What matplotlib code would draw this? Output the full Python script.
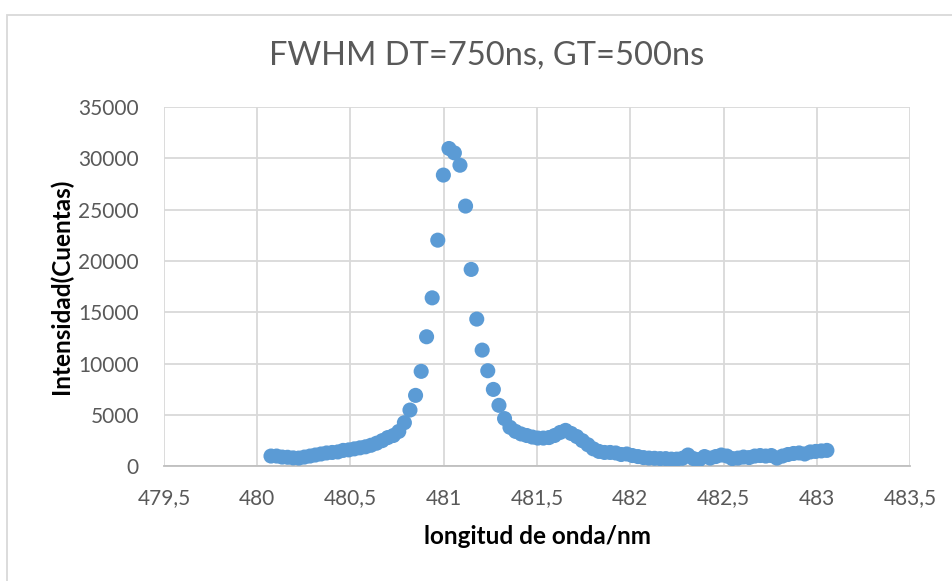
"""
Scatter of FWHM spectrum, DT=750ns, GT=500ns
"""

#######################################################################################
# Library
import matplotlib
matplotlib.use('Agg')
import matplotlib.pyplot as plt
from matplotlib.patches import Rectangle
from matplotlib.ticker import FuncFormatter
#######################################################################################

# -------------------------------------------------------------------------------------
# Data
a1dWave = [480.074, 480.104, 480.134, 480.163, 480.193, 480.223, 480.253, 480.283,
           480.312, 480.342, 480.372, 480.402, 480.432, 480.461, 480.491, 480.521,
           480.551, 480.581, 480.610, 480.640, 480.670, 480.700, 480.730, 480.759,
           480.789, 480.819, 480.849, 480.879, 480.908, 480.938, 480.968, 480.998,
           481.028, 481.057, 481.087, 481.117, 481.147, 481.177, 481.206, 481.236,
           481.266, 481.296, 481.326, 481.355, 481.385, 481.415, 481.445, 481.475,
           481.504, 481.534, 481.564, 481.594, 481.624, 481.653, 481.683, 481.713,
           481.743, 481.773, 481.802, 481.832, 481.862, 481.892, 481.922, 481.951,
           481.981, 482.011, 482.041, 482.071, 482.100, 482.130, 482.160, 482.190,
           482.220, 482.249, 482.279, 482.309, 482.339, 482.369, 482.398, 482.428,
           482.458, 482.488, 482.518, 482.547, 482.577, 482.607, 482.637, 482.667,
           482.696, 482.726, 482.756, 482.786, 482.816, 482.845, 482.875, 482.905,
           482.935, 482.965, 482.994, 483.024, 483.054]
a1dCounts = [1000, 1000, 900, 880, 820, 800, 900, 1000,
             1100, 1200, 1300, 1350, 1400, 1550, 1600, 1700,
             1800, 1900, 2050, 2250, 2500, 2800, 3000, 3400,
             4250, 5480, 6910, 9250, 12620, 16410, 22030, 28370,
             30960, 30530, 29330, 25350, 19180, 14340, 11320, 9310,
             7490, 5940, 4650, 3800, 3400, 3150, 3000, 2850,
             2750, 2750, 2800, 3000, 3300, 3500, 3200, 2900,
             2500, 2100, 1700, 1450, 1350, 1350, 1300, 1150,
             1200, 1050, 950, 850, 800, 780, 750, 750,
             700, 700, 780, 1100, 750, 650, 950, 800,
             950, 1100, 1000, 750, 800, 900, 850, 1000,
             1050, 1000, 1050, 800, 1000, 1150, 1250, 1300,
             1200, 1400, 1450, 1500, 1550]

a1dXTicks = [479.5, 480, 480.5, 481, 481.5, 482, 482.5, 483, 483.5]
a1dYTicks = [0, 5000, 10000, 15000, 20000, 25000, 30000, 35000]

sTitle = 'FWHM DT=750ns, GT=500ns'
sXLabel = 'longitud de onda/nm'
sYLabel = 'Intensidad(Cuentas)'
# -------------------------------------------------------------------------------------

# -------------------------------------------------------------------------------------
# Style
plt.rcParams['font.family'] = ['Lato', 'DejaVu Sans']
sColorMark = '#5B9BD5'
sColorGrid = '#D9D9D9'
sColorTick = '#595959'
# -------------------------------------------------------------------------------------

# -------------------------------------------------------------------------------------
# Figure and axes
oFig = plt.figure(figsize=(9.53, 5.81), dpi=100)
oAx = oFig.add_axes([0.172, 0.1974, 0.783, 0.6184])

# Chart frame (only top and left edges visible in the crop)
oFig.patches.append(Rectangle((7 / 953, -0.5), 2.0, 1.5 - 15 / 581,
                              transform=oFig.transFigure, fill=False,
                              edgecolor=sColorGrid, linewidth=1.3))

oAx.scatter(a1dWave, a1dCounts, s=118, color=sColorMark, edgecolors='none', zorder=3)

oAx.set_xlim(479.5, 483.5)
oAx.set_ylim(0, 35000)
oAx.set_xticks(a1dXTicks)
oAx.set_yticks(a1dYTicks)
oAx.xaxis.set_major_formatter(FuncFormatter(lambda dV, iP: ('%g' % dV).replace('.', ',')))
oAx.yaxis.set_major_formatter(FuncFormatter(lambda dV, iP: '%d' % dV))

oAx.grid(True, color=sColorGrid, linewidth=1.3, zorder=0)
oAx.set_axisbelow(True)
for sSide in ['top', 'right', 'left']:
    oAx.spines[sSide].set_visible(False)
oAx.spines['bottom'].set_color('#BFBFBF')
oAx.spines['bottom'].set_linewidth(1.3)
oAx.spines['bottom'].set_zorder(1)

oAx.tick_params(axis='both', length=0, labelsize=15, labelcolor=sColorTick)
oAx.tick_params(axis='x', pad=16)
oAx.tick_params(axis='y', pad=18)

oAx.set_xlabel(sXLabel, fontsize=17.5, fontweight='bold', color='#000000', labelpad=12)
oAx.set_ylabel(sYLabel, fontsize=17.5, fontweight='bold', color='#000000', labelpad=4)

oFig.text(0.511, 0.905, sTitle, ha='center', va='center', fontsize=23.5, color=sColorTick)

oFig.savefig('out.png', dpi=100)
# -------------------------------------------------------------------------------------
